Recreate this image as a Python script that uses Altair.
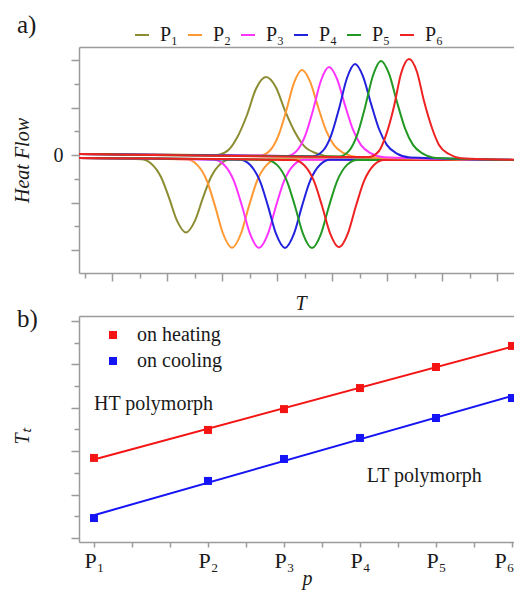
import altair as alt
import pandas as pd

SERIF = "Liberation Serif"
AXIS_GREY = "#9b9b9b"
TEXT = "#1a1a1a"

# ---------------- panel a) : heat-flow traces ----------------
SERIES = ["P₁", "P₂", "P₃", "P₄", "P₅", "P₆"]
SERIES_COLORS = ["#8c8c32", "#ff9933", "#ff33ff", "#2222dd", "#229922", "#ee2222"]

# traces with the downward peak (T, flow), arbitrary units
DIP_T = [
    [77, 139, 149, 159, 167, 175, 184, 193, 201, 209, 219, 229, 520],
    [77, 185, 195, 205, 213, 221, 230, 239, 247, 255, 265, 275, 520],
    [77, 212, 222, 232, 240, 248, 257, 266, 274, 282, 292, 302, 520],
    [77, 238, 248, 258, 266, 274, 283, 292, 300, 308, 318, 328, 520],
    [77, 265, 275, 285, 293, 301, 310, 319, 327, 335, 345, 355, 520],
    [77, 292, 302, 312, 320, 328, 337, 346, 354, 362, 372, 382, 520],
]
DIP_FLOW = [
    [-3, -4.2, -8.4, -22, -42.7, -65.7, -77.5, -65.7, -42.7, -22, -8.4, -4.2, -5],
    [-3, -4.6, -9.6, -26, -50.9, -78.5, -92.7, -78.5, -50.9, -26, -9.6, -4.6, -5],
    [-3, -4.7, -9.7, -26.1, -51, -78.6, -92.8, -78.6, -51, -26.1, -9.7, -4.7, -5],
    [-3, -4.8, -9.8, -26.2, -51.1, -78.7, -92.9, -78.7, -51.1, -26.2, -9.8, -4.8, -5],
    [-3, -4.9, -9.9, -26.3, -51.2, -78.8, -93, -78.8, -51.2, -26.3, -9.9, -4.9, -5],
    [-3, -5.1, -10, -26.2, -50.8, -78.1, -92.2, -78.1, -50.8, -26.2, -10, -5.1, -5],
]
# traces with the upward peak
PEAK_T = [
    [77, 214, 226, 235, 245, 254, 264, 274, 283, 293, 302, 314, 330, 520],
    [77, 258, 268, 276, 284, 292, 300, 308, 316, 324, 332, 342, 355, 520],
    [77, 285, 295, 303, 311, 319, 327, 335, 343, 351, 359, 369, 382, 520],
    [77, 311, 321, 329, 337, 345, 353, 361, 369, 377, 385, 395, 408, 520],
    [77, 337, 347, 355, 363, 371, 379, 387, 395, 403, 411, 421, 434, 520],
    [77, 367, 377, 384, 392, 399, 407, 415, 422, 430, 437, 447, 459, 520],
]
PEAK_FLOW = [
    [1, -0.05, 4.6, 17.2, 40, 66.2, 78, 67.5, 44.3, 22.7, 9.1, 1.8, -1.6, -5],
    [1, -0.6, 4.5, 18.3, 43.4, 72.1, 85, 73.6, 48.3, 24.7, 9.8, 1.8, -1.9, -5],
    [1, -0.9, 4.4, 18.8, 44.8, 74.5, 88, 76.1, 49.8, 25.3, 9.9, 1.6, -2.2, -5],
    [1, -1.2, 4.3, 19.2, 46.2, 77, 91, 78.7, 51.4, 26, 9.9, 1.4, -2.5, -5],
    [1, -1.5, 4.1, 19.6, 47.6, 79.5, 94, 81.3, 53, 26.7, 10.1, 1.3, -2.9, -5],
    [1, -1.9, 4, 19.8, 48.5, 81.3, 96, 83, 54, 27, 10, 1, -3.2, -5],
]
T_TICKS = [82.5, 110, 137.5, 165, 192.5, 220, 247.5, 275, 302.5, 330, 357.5, 385,
           412.5, 440, 467.5, 495]
FLOW_TICKS = [-95, -71.25, -47.5, -23.75, 0, 23.75, 47.5, 71.25, 95]

# ---------------- panel b) : transition temperatures ----------------
P_POS = [0, 1.5, 2.5, 3.5, 4.5, 5.5]
P_LABELS = ["P₁", "P₂", "P₃", "P₄", "P₅", "P₆"]
TT_HEATING = [3.69, 4.98, 5.94, 6.91, 7.88, 8.85]
TT_COOLING = [0.92, 2.63, 3.64, 4.61, 5.53, 6.45]
P_TICKS = [0, 0.5, 1, 1.5, 2, 2.5, 3, 3.5, 4, 4.5, 5, 5.5]
TT_TICKS = [0, 1, 2, 3, 4, 5, 6, 7, 8, 9, 10]
KINDS = ["on heating", "on cooling"]
KIND_COLORS = ["#f41414", "#1414f4"]
ANNOT_TEXT = ["HT polymorph", "LT polymorph"]
ANNOT_P = [0, 3.59]
ANNOT_TT = [5.9, 2.58]

# ---------------- tables ----------------
dip_rows, peak_rows = [], []
for s, ts, fs in zip(SERIES, DIP_T, DIP_FLOW):
    dip_rows += [{"series": s, "T": t, "flow": f} for t, f in zip(ts, fs)]
for s, ts, fs in zip(SERIES, PEAK_T, PEAK_FLOW):
    peak_rows += [{"series": s, "T": t, "flow": f} for t, f in zip(ts, fs)]
dip_df = pd.DataFrame(dip_rows)
peak_df = pd.DataFrame(peak_rows)

tt_df = pd.DataFrame(
    [{"p": p, "Tt": v, "kind": KINDS[0]} for p, v in zip(P_POS, TT_HEATING)]
    + [{"p": p, "Tt": v, "kind": KINDS[1]} for p, v in zip(P_POS, TT_COOLING)]
)
annot_df = pd.DataFrame({"p": ANNOT_P, "Tt": ANNOT_TT, "label": ANNOT_TEXT})

label_expr_p = " : ".join(
    [f"datum.value == {p} ? '{l}'" for p, l in zip(P_POS, P_LABELS)]
) + " : ''"

W, H = 443, 226

# ---------------- panel a) chart ----------------
t_scale = alt.Scale(domain=[77, 520], nice=False, zero=False)
flow_scale = alt.Scale(domain=[-118, 108], nice=False, zero=False)
color_a = alt.Color(
    "series:N",
    scale=alt.Scale(domain=SERIES, range=SERIES_COLORS),
    legend=alt.Legend(
        title=None, orient="none", legendX=53, legendY=-22, direction="horizontal",
        symbolType="stroke", symbolSize=196, symbolStrokeWidth=2,
        labelFont=SERIF, labelFontSize=20, labelColor=TEXT, labelOffset=8,
        columnPadding=5, padding=0,
    ),
)
y_a = alt.Y(
    "flow:Q", scale=flow_scale,
    axis=alt.Axis(
        title="Heat Flow", values=FLOW_TICKS,
        labelExpr="datum.value == 0 ? '0' : ''",
        tickSize={"condition": {"test": "abs(datum.value) % 47.5 < 0.01", "value": 8}, "value": 5},
        labelPadding=8, titleX=-47,
    ),
)
x_a = alt.X(
    "T:Q", scale=t_scale,
    axis=alt.Axis(
        title="T", values=T_TICKS, labels=False,
        tickSize={"condition": {"test": "(datum.value - 82.5) % 55 > 1", "value": 8}, "value": 5},
        titleBaseline="alphabetic", titleY=36,
    ),
)
x_a_frame = alt.X(
    "T:Q", scale=t_scale,
    axis=alt.Axis(orient="top", title=None, labels=False, ticks=False, domain=True),
)

dips = alt.Chart(dip_df).mark_line(interpolate="monotone", strokeWidth=2, clip=True).encode(
    x=x_a, y=y_a, color=color_a
)
peaks = alt.Chart(peak_df).mark_line(interpolate="monotone", strokeWidth=2, clip=True).encode(
    x=x_a_frame, y=y_a, color=color_a
)
tag_a = alt.Chart(pd.DataFrame({"tag": ["a)"]})).mark_text(
    align="left", baseline="alphabetic", font=SERIF, fontSize=25, color=TEXT
).encode(text="tag:N", x=alt.value(-62), y=alt.value(-14))

panel_a = alt.layer(dips, peaks, tag_a).resolve_axis(x="independent").properties(width=W, height=H)

# ---------------- panel b) chart ----------------
p_scale = alt.Scale(domain=[-0.197, 5.632], nice=False, zero=False)
tt_scale = alt.Scale(domain=[-0.184, 10.23], nice=False, zero=False)
y_b = alt.Y(
    "Tt:Q", scale=tt_scale,
    axis=alt.Axis(
        title="Tₜ", values=TT_TICKS, labels=False,
        tickSize={"condition": {"test": "datum.value % 2 == 0", "value": 8}, "value": 5},
        titleX=-47, titleY=120,
    ),
)
x_b = alt.X(
    "p:Q", scale=p_scale,
    axis=alt.Axis(
        title="p", values=P_TICKS, labelExpr=label_expr_p, tickSize=5,
        labelFontSize=22, labelPadding=3,
        labelAlign={"condition": {"test": f"datum.value == {P_POS[-1]}", "value": "right"},
                    "value": "center"},
        labelOffset={"condition": {"test": f"datum.value == {P_POS[-1]}", "value": 2},
                     "value": 0},
        titleBaseline="alphabetic", titleY=42, titleX=228,
    ),
)
x_b_frame = alt.X(
    "p:Q", scale=p_scale,
    axis=alt.Axis(orient="top", title=None, labels=False, ticks=False, domain=True),
)
x_b_plain = alt.X("p:Q", scale=p_scale, axis=None)
color_b_scale = alt.Scale(domain=KINDS, range=KIND_COLORS)

fit_heat = alt.Chart(tt_df).transform_filter(
    alt.datum.kind == KINDS[0]
).transform_regression("p", "Tt").mark_line(strokeWidth=2, color=KIND_COLORS[0]).encode(
    x=x_b, y=y_b
)
fit_cool = alt.Chart(tt_df).transform_filter(
    alt.datum.kind == KINDS[1]
).transform_regression("p", "Tt").mark_line(strokeWidth=2, color=KIND_COLORS[1]).encode(
    x=x_b_plain, y=y_b
)
points = alt.Chart(tt_df).mark_square(size=64, opacity=1).encode(
    x=x_b_frame, y=y_b,
    color=alt.Color(
        "kind:N", scale=color_b_scale,
        legend=alt.Legend(
            title=None, orient="none", legendX=24, legendY=9, symbolType="square",
            symbolSize=64, labelFont=SERIF, labelFontSize=20, labelColor=TEXT,
            labelOffset=14, rowPadding=6, padding=0, symbolOpacity=1,
        ),
    ),
)
annots = alt.Chart(annot_df).mark_text(
    align="left", baseline="alphabetic", font=SERIF, fontSize=20, color=TEXT
).encode(
    x=x_b_plain, y=y_b, text="label:N"
)
tag_b = alt.Chart(pd.DataFrame({"tag": ["b)"]})).mark_text(
    align="left", baseline="alphabetic", font=SERIF, fontSize=25, color=TEXT
).encode(text="tag:N", x=alt.value(-62), y=alt.value(11))

panel_b = alt.layer(fit_heat, fit_cool, points, annots, tag_b).resolve_axis(
    x="independent"
).properties(width=W, height=H)

chart = (
    alt.vconcat(panel_a, panel_b, spacing=-6)
    .resolve_scale(color="independent")
    .properties(padding={"top": 5, "left": 4, "right": -8, "bottom": 2})
    .configure_view(stroke=None)
    .configure_axis(
        domainColor=AXIS_GREY, tickColor=AXIS_GREY, domainWidth=1.5, tickWidth=1.5,
        grid=False, labelFont=SERIF, labelFontSize=20, labelColor=TEXT,
        titleFont=SERIF, titleFontSize=20, titleFontWeight="normal",
        titleFontStyle="italic", titleColor=TEXT,
    )
)

chart.save("out.html", embed_options={"renderer": "svg", "actions": False})
